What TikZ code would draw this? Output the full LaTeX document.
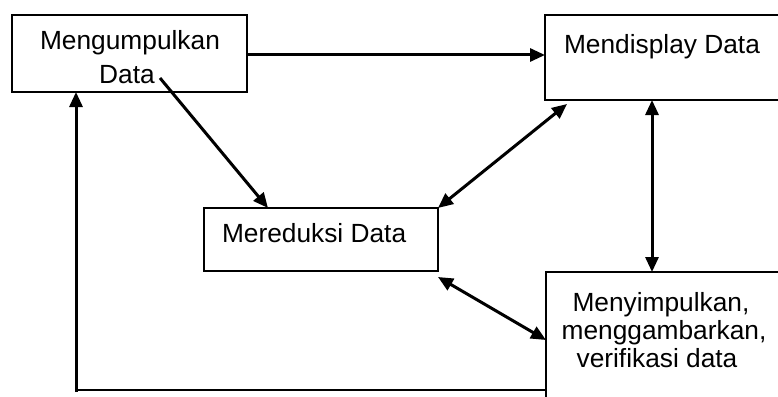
\documentclass[tikz,border=0pt]{standalone}
\usepackage{fontspec}
\setmainfont{Liberation Sans}
\usetikzlibrary{arrows.meta,calc}
\tikzset{
  boxnode/.style={draw, line width=1.5pt, inner sep=0pt, outer sep=0pt, anchor=north west, fill=none},
  txt/.style={inner sep=0pt, outer sep=0pt, anchor=base, font=\fontsize{26.3}{30}\selectfont},
  conn/.style={line width=3pt, -{Triangle[length=15pt,width=13pt]}},
  dconn/.style={line width=3pt, {Triangle[length=15pt,width=13pt]}-{Triangle[length=15pt,width=13pt]}},
  thinline/.style={line width=1.5pt}
}
\begin{document}
\begin{tikzpicture}[x=1pt,y=-1pt]
\clip (0,0) rectangle (778,396);
\fill[white] (0,0) rectangle (778,396);
% boxes
\node[boxnode, minimum width=235pt, minimum height=77pt] (b1) at (12,15) {};
\node[boxnode, minimum width=260pt, minimum height=85pt] (b2) at (545,15) {};
\node[boxnode, minimum width=234pt, minimum height=63pt] (b3) at (204,208) {};
\node[boxnode, minimum width=260pt, minimum height=140pt] (b4) at (546,272) {};
% texts
\node[txt] (t1a) at (130,49) {Mengumpulkan};
\node[txt] (t1b) at (127,83) {Data};
\node[txt] (t2) at (662,53) {Mendisplay Data};
\node[txt, anchor=base west] (t3) at (222,242) {Mereduksi Data};
\node[txt] (t4a) at (661,311) {Menyimpulkan,};
\node[txt] (t4b) at (664,339) {menggambarkan,};
\node[txt] (t4c) at (657,367) {verifikasi data};
% helper coordinates
\coordinate (s1) at (160,78);
\coordinate (e1) at (268,208);
\coordinate (d1) at (567,104);
\coordinate (d2) at (438,277);
\coordinate (v1) at (652,100);
\coordinate (v2) at (652,272);
\coordinate (f1) at (76,392);
\coordinate (f2) at (76,92);
\coordinate (h1) at (76,390);
\coordinate (h2) at (546,390);
\coordinate (w4) at (546,340);
% connectors
\draw[conn] (b1.east |- 0,55) -- (b2.west |- 0,55);
\draw[conn] (s1) -- (e1);
\draw[dconn] (b3.north east) -- (d1);
\draw[dconn] (v1) -- (v2);
\draw[dconn] (d2) -- (w4);
\draw[conn] (f1) -- (f2);
\draw[thinline] (h1) -- (h2);
\end{tikzpicture}
\end{document}
